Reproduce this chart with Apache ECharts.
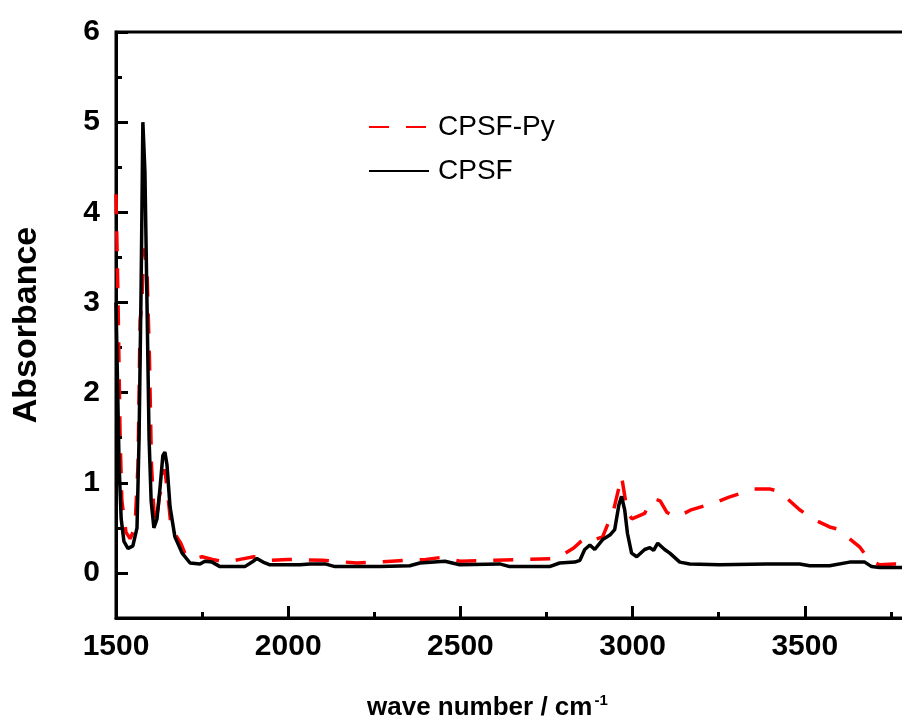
<!DOCTYPE html>
<html>
<head>
<meta charset="utf-8">
<script src="https://cdn.jsdelivr.net/npm/echarts@6/dist/echarts.min.js"></script>
<style>html,body{margin:0;padding:0;background:#fff}#c{width:902px;height:720px}</style>
</head>
<body>
<div id="c"></div>
<script>
// Wave numbers (cm-1) and absorbance values
const cpsfWave = [1500,1509,1515,1523,1535,1549,1561,1567,1573,1578,1584,1590,1596,1602,1610,1619,1628,1636,1642,1648,1657,1671,1692,1715,1744,1758,1779,1802,1874,1895,1909,1927,1947,2034,2063,2107,2136,2266,2353,2382,2455,2498,2614,2643,2759,2788,2832,2847,2861,2876,2890,2913,2934,2948,2960,2968,2977,2985,2997,3012,3035,3050,3061,3073,3093,3108,3137,3166,3253,3389,3485,3514,3572,3630,3674,3694,3717,3790];
const cpsfAbs  = [3.0,1.2,0.6,0.35,0.27,0.3,0.5,1.5,3.2,5.0,4.45,3.0,1.5,0.8,0.5,0.6,0.95,1.3,1.34,1.2,0.73,0.4,0.22,0.11,0.1,0.13,0.12,0.07,0.07,0.12,0.16,0.12,0.09,0.09,0.1,0.1,0.07,0.07,0.08,0.11,0.13,0.09,0.1,0.07,0.07,0.11,0.12,0.14,0.26,0.31,0.26,0.37,0.42,0.48,0.75,0.85,0.7,0.44,0.22,0.18,0.26,0.28,0.25,0.33,0.26,0.22,0.12,0.1,0.09,0.1,0.1,0.08,0.08,0.12,0.12,0.07,0.06,0.06];

const pyWave = [1500,1506,1512,1517,1529,1541,1555,1564,1570,1575,1581,1590,1597,1603,1610,1617,1626,1636,1642,1655,1660,1688,1700,1720,1750,1780,1820,1860,1900,1950,2000,2100,2200,2300,2400,2440,2500,2600,2700,2780,2830,2850,2870,2890,2913,2945,2968,2985,2998,3035,3050,3063,3080,3100,3130,3170,3240,3280,3350,3400,3427,3485,3528,3572,3601,3630,3659,3688,3717,3760,3790];
const pyAbs  = [4.2,3.0,1.5,0.8,0.45,0.38,0.5,1.2,2.8,3.0,3.6,3.35,2.4,1.2,0.7,0.55,0.85,1.0,1.15,0.7,0.5,0.33,0.22,0.15,0.18,0.15,0.12,0.15,0.18,0.14,0.15,0.14,0.11,0.13,0.15,0.17,0.13,0.14,0.15,0.16,0.28,0.35,0.4,0.37,0.4,0.7,1.07,0.67,0.6,0.66,0.78,0.82,0.8,0.67,0.62,0.7,0.78,0.84,0.93,0.93,0.9,0.7,0.59,0.51,0.48,0.38,0.29,0.14,0.09,0.1,0.1];

const xMin = 1500, xMax = 4000, xStep = 500;
const yMin = -0.5, yMax = 6;

const pairs = (xs, ys) => xs.map((x, i) => [x, ys[i]]);
const FONT = '"Liberation Sans", Arial, sans-serif';

// main plot box
const G = {left: 116, top: 32, width: 861, height: 586};
// overlay grid spanning only 0..6 (for integer major ticks + labels)
const G2h = G.height * (yMax - 0) / (yMax - yMin);

const chart = echarts.init(document.getElementById('c'), null, {renderer: 'canvas'});
chart.setOption({
  animation: false,
  backgroundColor: '#fff',
  title: {
    text: '{a|wave number / cm}{b|-1}',
    left: 362, top: 688,
    textStyle: {
      rich: {
        a: {fontFamily: FONT, fontWeight: 'bold', fontSize: 26, color: '#000', verticalAlign: 'bottom'},
        b: {fontFamily: FONT, fontWeight: 'bold', fontSize: 15, color: '#000', verticalAlign: 'top', padding: [0,0,13,2]}
      }
    }
  },
  legend: {
    left: 363, top: 108, orient: 'vertical',
    itemWidth: 60, itemHeight: 14, itemGap: 16,
    itemStyle: {opacity: 0},
    textStyle: {fontFamily: FONT, fontSize: 28, color: '#000', padding: [0,0,0,4]},
    data: ['CPSF-Py', 'CPSF']
  },
  grid: [
    Object.assign({outerBoundsMode: 'none', containLabel: false, show: true, borderColor: '#000', borderWidth: 3,
                   backgroundColor: 'transparent'}, G),
    {left: G.left, top: G.top, width: G.width, height: G2h, outerBoundsMode: 'none', containLabel: false, show: false}
  ],
  xAxis: [{
    gridIndex: 0, type: 'value', min: xMin, max: xMax, interval: xStep,
    axisLine: {show: true, onZero: false, lineStyle: {color: '#000', width: 3}},
    axisTick: {show: true, inside: true, length: 12, lineStyle: {color: '#000', width: 3}},
    minorTick: {show: true, splitNumber: 2, length: 6, lineStyle: {color: '#000', width: 3}},
    splitLine: {show: false},
    axisLabel: {fontFamily: FONT, fontWeight: 'bold', fontSize: 30, color: '#000', margin: 14,
                formatter: v => String(v)}
  }, {
    gridIndex: 1, type: 'value', min: xMin, max: xMax, show: false
  }],
  yAxis: [{
    gridIndex: 0, type: 'value', min: yMin, max: yMax, interval: 0.5,
    name: 'Absorbance', nameLocation: 'middle', nameRotate: 90, nameGap: 72,
    nameTextStyle: {fontFamily: FONT, fontWeight: 'bold', fontSize: 34, color: '#000'},
    axisLine: {show: true, onZero: false, lineStyle: {color: '#000', width: 3}},
    axisTick: {show: true, inside: true, length: 6, lineStyle: {color: '#000', width: 3}},
    splitLine: {show: false},
    axisLabel: {show: false}
  }, {
    gridIndex: 1, type: 'value', min: 0, max: yMax, interval: 1,
    axisLine: {show: false, onZero: false},
    axisTick: {show: true, inside: true, length: 12, lineStyle: {color: '#000', width: 3}},
    splitLine: {show: false},
    axisLabel: {fontFamily: FONT, fontWeight: 'bold', fontSize: 30, color: '#000', margin: 16,
                formatter: v => String(v)}
  }],
  series: [{
    name: 'CPSF-Py', type: 'line', showSymbol: false, symbol: 'none', z: 2,
    xAxisIndex: 0, yAxisIndex: 0,
    color: '#ff0000',
    lineStyle: {color: '#ff0000', width: 3.5, type: [20, 17]},
    data: pairs(pyWave, pyAbs)
  }, {
    name: 'CPSF', type: 'line', showSymbol: false, symbol: 'none', z: 3,
    xAxisIndex: 0, yAxisIndex: 0,
    color: '#000',
    lineStyle: {color: '#000', width: 3.5},
    data: pairs(cpsfWave, cpsfAbs)
  }]
});
</script>
</body>
</html>
